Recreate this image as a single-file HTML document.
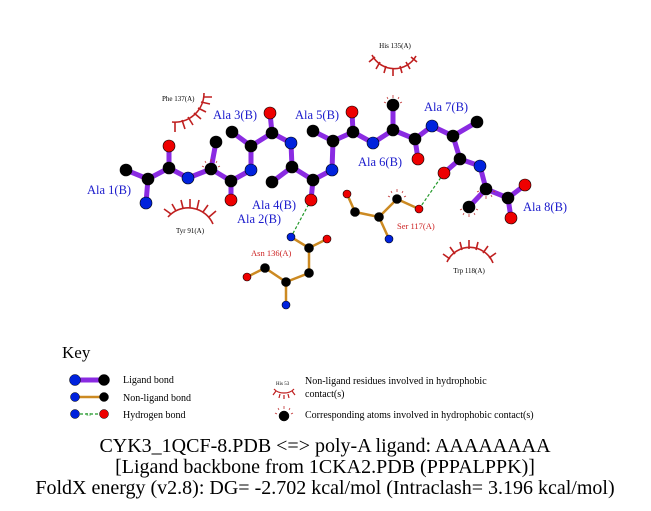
<!DOCTYPE html>
<html><head><style>
html,body{margin:0;padding:0;background:#fff;width:651px;height:511px;overflow:hidden}
svg{display:block}
text{font-family:"Liberation Serif",serif}
</style></head><body>
<svg width="651" height="511" viewBox="0 0 651 511" xmlns="http://www.w3.org/2000/svg">
<defs>
<g id="hm"><path d="M-6,-8 L-5,-6 M0,-10 L0,-7 M6,-8 L5,-6 M-9,-3 L-7,-2 M9,-3 L7,-2" stroke="#c03030" stroke-width="0.8" fill="none"/></g>
</defs>
<!-- hydrophobic arcs -->
<g stroke="#c02020" stroke-width="1.6" fill="none">
<path d="M372,55 A25,25 0 0 0 416,56"/>
<path d="M375,57 L369,62 M380,62 L376,69 M386,66 L384,73 M393,68 L393,76 M400,66 L402,73 M406,62 L410,69 M411,57 L417,62"/>
<path d="M172,122 A29,29 0 0 0 204,93"/>
<path d="M175,122 L175,132 M182,120 L185,129 M188,117 L193,125 M194,113 L201,119 M198,108 L206,112 M201,102 L210,104 M203,97 L212,97"/>
<path d="M168,217 A27,27 0 0 1 213,224"/>
<path d="M171,214 L164,209 M176,211 L172,204 M183,208 L181,200 M190,208 L190,199 M197,209 L199,200 M203,212 L208,205 M209,217 L216,211"/>
<path d="M447,262 A25,25 0 0 1 493,263"/>
<path d="M450,259 L443,254 M455,254 L450,247 M462,250 L460,242 M469,249 L469,240 M476,250 L478,242 M483,253 L488,246 M489,258 L496,253"/>
</g>
<text x="395" y="48" font-size="7" text-anchor="middle">His 135(A)</text>
<text x="162" y="101" font-size="7">Phe 137(A)</text>
<text x="190" y="233" font-size="7" text-anchor="middle">Tyr 91(A)</text>
<text x="469" y="273" font-size="7" text-anchor="middle">Trp 118(A)</text>
<!-- non-ligand bonds -->
<g stroke="#cc8a22" stroke-width="2.5" fill="none">
<path d="M291,237 L309,248 L327,239 M309,248 L309,273 L286,282 L265,268 L247,277 M286,282 L286,305"/>
<path d="M347,194 L355,212 L379,217 L397,199 L419,209 M379,217 L389,239"/>
</g>
<!-- H bonds -->
<g stroke="#22992a" stroke-width="1.2" stroke-dasharray="3,2" fill="none">
<path d="M311,200 L291,237"/>
<path d="M419,209 L444,173"/>
</g>
<!-- ligand bonds -->
<g stroke="#8a2be2" stroke-width="5" fill="none" stroke-linecap="round">
<path d="M126,170 L148,179 L146,203 M148,179 L169,168 L169,146 M169,168 L188,178 L211,169 L216,142 M211,169 L231,181 L231,200 M231,181 L251,170 L251,146 L232,132 M251,146 L272,133 L270,113 M272,133 L291,143 L292,167 L272,182 M292,167 L313,180 L311,200 M313,180 L332,170 L333,141 L313,131 M333,141 L353,132 L352,112 M353,132 L373,143 L393,130 L393,105 M393,130 L415,139 L418,159 M415,139 L432,126 L453,136 L477,122 M453,136 L460,159 L444,173 M460,159 L480,166 L486,189 L469,207 M486,189 L508,198 L525,185 M508,198 L511,218"/>
</g>
<!-- hydrophobic atom marks -->
<use href="#hm" x="211" y="169"/><use href="#hm" x="393" y="105"/><use href="#hm" x="397" y="199"/>
<g transform="translate(486,189) rotate(180)"><use href="#hm"/></g>
<g transform="translate(469,207) rotate(180)"><use href="#hm"/></g>
<!-- atoms -->
<g stroke="#000" stroke-width="0.6">
<g fill="#000">
<circle cx="126" cy="170" r="6"/><circle cx="148" cy="179" r="6"/><circle cx="169" cy="168" r="6"/><circle cx="211" cy="169" r="6"/><circle cx="216" cy="142" r="6"/><circle cx="231" cy="181" r="6"/><circle cx="251" cy="146" r="6"/><circle cx="232" cy="132" r="6"/><circle cx="272" cy="133" r="6"/><circle cx="292" cy="167" r="6"/><circle cx="272" cy="182" r="6"/><circle cx="313" cy="180" r="6"/><circle cx="333" cy="141" r="6"/><circle cx="313" cy="131" r="6"/><circle cx="353" cy="132" r="6"/><circle cx="393" cy="130" r="6"/><circle cx="393" cy="105" r="6"/><circle cx="415" cy="139" r="6"/><circle cx="453" cy="136" r="6"/><circle cx="477" cy="122" r="6"/><circle cx="460" cy="159" r="6"/><circle cx="486" cy="189" r="6"/><circle cx="469" cy="207" r="6"/><circle cx="508" cy="198" r="6"/>
<circle cx="309" cy="248" r="4.5"/><circle cx="309" cy="273" r="4.5"/><circle cx="286" cy="282" r="4.5"/><circle cx="265" cy="268" r="4.5"/><circle cx="355" cy="212" r="4.5"/><circle cx="379" cy="217" r="4.5"/><circle cx="397" cy="199" r="4.5"/>
</g>
<g fill="#0022dd">
<circle cx="146" cy="203" r="6"/><circle cx="188" cy="178" r="6"/><circle cx="251" cy="170" r="6"/><circle cx="291" cy="143" r="6"/><circle cx="332" cy="170" r="6"/><circle cx="373" cy="143" r="6"/><circle cx="432" cy="126" r="6"/><circle cx="480" cy="166" r="6"/>
<circle cx="291" cy="237" r="4"/><circle cx="286" cy="305" r="4"/><circle cx="389" cy="239" r="4"/>
</g>
<g fill="#ee0000">
<circle cx="169" cy="146" r="6"/><circle cx="231" cy="200" r="6"/><circle cx="270" cy="113" r="6"/><circle cx="311" cy="200" r="6"/><circle cx="352" cy="112" r="6"/><circle cx="418" cy="159" r="6"/><circle cx="444" cy="173" r="6"/><circle cx="525" cy="185" r="6"/><circle cx="511" cy="218" r="6"/>
<circle cx="327" cy="239" r="4"/><circle cx="247" cy="277" r="4"/><circle cx="347" cy="194" r="4"/><circle cx="419" cy="209" r="4"/>
</g>
</g>
<!-- labels -->
<g fill="#1a1acc" font-size="12.5">
<text x="87" y="194">Ala 1(B)</text><text x="213" y="119">Ala 3(B)</text><text x="295" y="119">Ala 5(B)</text><text x="424" y="111">Ala 7(B)</text><text x="358" y="166">Ala 6(B)</text><text x="252" y="209">Ala 4(B)</text><text x="237" y="223">Ala 2(B)</text><text x="523" y="211">Ala 8(B)</text>
</g>
<g fill="#cc2222" font-size="8.5">
<text x="251" y="256">Asn 136(A)</text><text x="397" y="229">Ser 117(A)</text>
</g>
<!-- key -->
<text x="62" y="358" font-size="17">Key</text>
<path d="M75,380 L104,380" stroke="#8a2be2" stroke-width="5"/>
<path d="M75,397 L104,397" stroke="#cc8a22" stroke-width="2.5"/>
<path d="M75,414 L104,414" stroke="#22992a" stroke-width="1.2" stroke-dasharray="3,2"/>
<text x="86" y="416" font-size="4" fill="#22992a">3.0</text>
<g stroke="#000" stroke-width="0.5">
<circle cx="75" cy="380" r="5.5" fill="#0022dd"/><circle cx="104" cy="380" r="5.5" fill="#000"/>
<circle cx="75" cy="397" r="4.5" fill="#0022dd"/><circle cx="104" cy="397" r="4.5" fill="#000"/>
<circle cx="75" cy="414" r="4.5" fill="#0022dd"/><circle cx="104" cy="414" r="4.5" fill="#ee0000"/>
<circle cx="284" cy="416" r="5" fill="#000"/>
</g>
<use href="#hm" x="284" y="416"/>
<g font-size="10">
<text x="123" y="383">Ligand bond</text><text x="123" y="401">Non-ligand bond</text><text x="123" y="418">Hydrogen bond</text>
<text x="305" y="384">Non-ligand residues involved in hydrophobic</text><text x="305" y="397">contact(s)</text>
<text x="305" y="418">Corresponding atoms involved in hydrophobic contact(s)</text>
</g>
<text x="276" y="385" font-size="5">His 53</text>
<g stroke="#c02020" stroke-width="1.2" fill="none">
<path d="M274,389 A12,9 0 0 0 294,389"/>
<path d="M276,391 L273,395 M280,394 L279,398 M284,395 L284,399 M288,394 L289,398 M292,391 L295,395"/>
</g>
<!-- caption -->
<g font-size="20" text-anchor="middle">
<text x="325" y="452">CYK3_1QCF-8.PDB &lt;=&gt; poly-A ligand: AAAAAAAA</text>
<text x="325" y="473">[Ligand backbone from 1CKA2.PDB (PPPALPPK)]</text>
<text x="325" y="494">FoldX energy (v2.8): DG= -2.702 kcal/mol (Intraclash= 3.196 kcal/mol)</text>
</g>
</svg>
</body></html>
